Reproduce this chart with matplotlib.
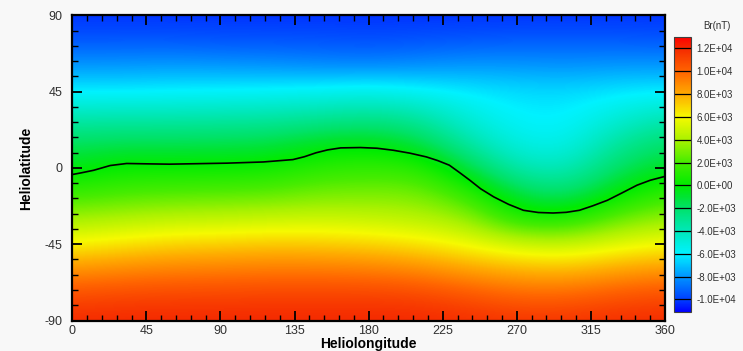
import numpy as np
import matplotlib
matplotlib.use("Agg")
import matplotlib.pyplot as plt
from matplotlib.colors import LinearSegmentedColormap, Normalize
from matplotlib.ticker import MultipleLocator
import matplotlib.colorbar as mcolorbar

# ---- data ----
grid_lon = [0, 30, 60, 90, 120, 150, 180, 210, 240, 270, 300, 330, 360]
grid_lat = [90, 75, 60, 45, 30, 15, 0, -15, -30, -45, -60, -75, -90]
# Br (nT): columns = longitudes, rows = latitudes (90 -> -90)
br_lon0   = [-10300, -9500, -7900, -6100, -3800, -1800, -500, 1600, 3800, 6200, 8700, 10800, 12000]
br_lon30  = [-10300, -9500, -7900, -6100, -3700, -1600, 300, 2000, 4200, 6600, 9000, 11000, 12100]
br_lon60  = [-10300, -9500, -7800, -6000, -3700, -1600, 250, 2200, 4500, 7000, 9200, 11100, 12100]
br_lon90  = [-10300, -9600, -7900, -5900, -3600, -1500, 300, 2300, 4600, 7100, 9300, 11100, 12100]
br_lon120 = [-10300, -9600, -8000, -5800, -3500, -1400, 400, 2400, 4800, 7300, 9400, 11200, 12100]
br_lon150 = [-10300, -9600, -8200, -5600, -3200, -700, 1200, 2900, 4900, 7200, 9400, 11200, 12100]
br_lon180 = [-10300, -9700, -8300, -5300, -2900, -400, 1400, 3000, 4700, 7000, 9300, 11200, 12100]
br_lon210 = [-10300, -9600, -8100, -5700, -3300, -1200, 1300, 3000, 4400, 6600, 9000, 11100, 12100]
br_lon240 = [-10300, -9500, -7900, -6100, -5000, -3500, -1200, 1500, 3700, 5900, 8300, 10600, 11900]
br_lon270 = [-10300, -9400, -7900, -6400, -6000, -5300, -3800, -1400, 900, 5000, 7800, 10000, 11700]
br_lon300 = [-10300, -9400, -8000, -6500, -6100, -5600, -4200, -2200, 700, 4700, 7600, 10000, 11700]
br_lon330 = [-10300, -9400, -7900, -6200, -5000, -3300, -1900, -200, 2600, 5500, 8200, 10500, 11900]
br_lon360 = [-10300, -9500, -7900, -6100, -3900, -2000, -700, 1400, 3700, 6000, 8600, 10800, 12000]

# neutral line (Br = 0)
neutral_lon = [0, 5, 13, 23, 33, 45, 59, 94, 116, 134, 141, 148, 155, 163, 175, 185,
               195, 205, 215, 222, 229, 235, 241.5, 248, 256, 265, 274, 283, 292,
               300, 308, 316, 325, 334, 343, 351, 360]
neutral_lat = [-3.9, -3.0, -1.4, 1.4, 2.6, 2.4, 2.2, 2.8, 3.5, 4.9, 6.6, 8.9, 10.6,
               11.8, 12.0, 11.6, 10.4, 8.7, 6.5, 4.3, 1.6, -2.6, -7.3, -12.3, -17.1,
               -21.5, -25.0, -26.3, -26.6, -26.2, -25.0, -22.4, -19.1, -14.7, -10.2,
               -7.3, -5.0]

cbar_ticks = [-10000, -8000, -6000, -4000, -2000, 0, 2000, 4000, 6000, 8000, 10000, 12000]
x_ticks = [0, 45, 90, 135, 180, 225, 270, 315, 360]
y_ticks = [-90, -45, 0, 45, 90]

# ---- colormap ----
cmap_values = [-11100, -10000, -8000, -6000, -4000, -2000, -1000, 0, 2000, 4000,
               6000, 8000, 10000, 12000, 13000]
cmap_colors = [(0, 0, 255), (0, 65, 255), (0, 150, 255), (0, 242, 255), (0, 232, 185),
               (0, 226, 105), (0, 228, 50), (0, 236, 0), (70, 236, 0), (170, 242, 0),
               (246, 250, 0), (255, 170, 0), (255, 100, 0), (245, 42, 0), (255, 0, 0)]
vmin, vmax = cmap_values[0], cmap_values[-1]
pos = [(v - vmin) / (vmax - vmin) for v in cmap_values]
cmap = LinearSegmentedColormap.from_list(
    "brmap", list(zip(pos, [tuple(c / 255 for c in col) for col in cmap_colors])), N=512)
norm = Normalize(vmin=vmin, vmax=vmax)

br = np.array([br_lon0, br_lon30, br_lon60, br_lon90, br_lon120, br_lon150, br_lon180,
               br_lon210, br_lon240, br_lon270, br_lon300, br_lon330, br_lon360]).T

# ---- figure ----
plt.rcParams["font.family"] = ["Liberation Sans", "DejaVu Sans"]
plt.rcParams["axes.unicode_minus"] = False
bg = "#f8f8f8"
fig = plt.figure(figsize=(7.43, 3.51), dpi=100, facecolor=bg)

ax = fig.add_axes([72.3 / 743, 1 - 320.5 / 351, (665 - 72.3) / 743, (320.5 - 15.3) / 351])
dlon = grid_lon[1] - grid_lon[0]
dlat = grid_lat[0] - grid_lat[1]
ax.imshow(br, cmap=cmap, norm=norm, aspect="auto", origin="upper",
          extent=[grid_lon[0] - dlon / 2, grid_lon[-1] + dlon / 2,
                  grid_lat[-1] - dlat / 2, grid_lat[0] + dlat / 2],
          interpolation="bicubic", interpolation_stage="data")
ax.plot(neutral_lon, neutral_lat, color="black", lw=1.2)
ax.set_xlim(0, 360)
ax.set_ylim(-90, 90)
ax.set_xticks(x_ticks)
ax.set_yticks(y_ticks)
ax.xaxis.set_minor_locator(MultipleLocator(9))
ax.yaxis.set_minor_locator(MultipleLocator(9))
ax.tick_params(which="both", direction="in", top=True, right=True, colors="black",
               labelcolor="#303030", labelsize=9)
ax.tick_params(which="major", length=7, width=1.3, pad=3)
ax.tick_params(which="minor", length=4, width=1.0)
ax.tick_params(axis="y", which="major", pad=7)
for s in ax.spines.values():
    s.set_linewidth(1.6)
ax.set_xlabel("Heliolongitude", fontsize=10, fontweight="bold", labelpad=0)
ax.set_ylabel("Heliolatitude", fontsize=10, fontweight="bold", labelpad=8)

# ---- colorbar ----
cax = fig.add_axes([674 / 743, 1 - 312 / 351, 17 / 743, 275 / 351])
cb = mcolorbar.ColorbarBase(cax, cmap=cmap, norm=norm, orientation="vertical")
cb.set_ticks(cbar_ticks)
cb.set_ticklabels([f"{v:.1E}" for v in cbar_ticks])
cax.tick_params(length=0, labelsize=7, labelcolor="#303030", pad=4)
for v in cbar_ticks:
    cax.axhline(v, color="black", lw=0.9)
cb.outline.set_edgecolor("#404040")
cb.outline.set_linewidth(0.8)
fig.text(717 / 743, 1 - 26 / 351, "Br(nT)", ha="center", va="center", fontsize=7, color="#303030")

fig.savefig("out.png", dpi=100, facecolor=bg)
